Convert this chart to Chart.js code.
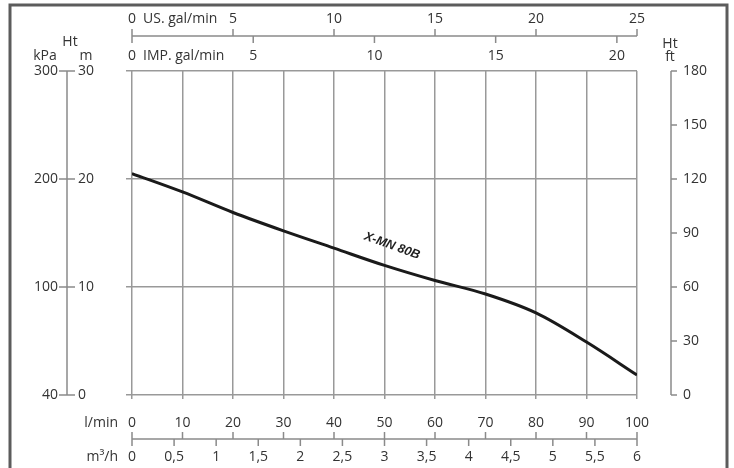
<!DOCTYPE html>
<html>
<head>
<meta charset="utf-8">
<script src="https://cdn.jsdelivr.net/npm/chart.js@4.4.1/dist/chart.umd.min.js"></script>
<style>
  html, body { margin: 0; padding: 0; background: #fff; }
  #wrap { width: 734px; height: 468px; }
</style>
</head>
<body>
<div id="wrap"><canvas id="pump" width="734" height="468"></canvas></div>
<script>
// pump curve (flow in l/min, head in m)
const flowLmin = [0, 10, 20, 30, 40, 50, 60, 70, 80, 90, 100];
const headM = [20.5, 18.8, 16.9, 15.2, 13.6, 12.0, 10.6, 9.35, 7.6, 4.9, 1.85];
const curveName = 'X-MN 80B';

// axis tick labels
const lminTicks = [0, 10, 20, 30, 40, 50, 60, 70, 80, 90, 100];
const m3hTicks = ['0', '0,5', '1', '1,5', '2', '2,5', '3', '3,5', '4', '4,5', '5', '5,5', '6'];
const usTicks = [0, 5, 10, 15, 20, 25];
const impTicks = [0, 5, 10, 15, 20];
const mTicks = [0, 10, 20, 30];
const kpaTicks = [40, 100, 200, 300];
const ftTicks = [0, 30, 60, 90, 120, 150, 180];

const FONT = '14px "Open Sans"';
const TXT = '#333';
const AXIS = '#8a8a8a';

const axesPlugin = {
    id: 'pumpAxes',
    afterDraw(chart) {
        const { ctx, scales: s } = chart;
        const line = (x1, y1, x2, y2) => { ctx.beginPath(); ctx.moveTo(x1, y1); ctx.lineTo(x2, y2); ctx.stroke(); };
        const text = (t, x, y, align) => { ctx.textAlign = align; ctx.fillText(String(t), x, y); };

        ctx.save();
        ctx.strokeStyle = AXIS;
        ctx.lineWidth = 1.5;
        ctx.fillStyle = TXT;
        ctx.font = FONT;
        ctx.textBaseline = 'middle';

        // left: kPa / m
        const lx = 67;
        line(lx, s.y.getPixelForValue(30), lx, s.y.getPixelForValue(0));
        mTicks.forEach((m, i) => {
            const py = s.y.getPixelForValue(m);
            line(lx - 8, py, lx + 8, py);
            text(kpaTicks[i], lx - 9, py, 'right');
            text(m, lx + 11, py, 'left');
        });
        text('Ht', 70, 42, 'center');
        text('kPa', 45, 56, 'center');
        text('m', 86, 56, 'center');

        // right: ft
        const rx = 671;
        line(rx, s.yFt.getPixelForValue(180), rx, s.yFt.getPixelForValue(0));
        ftTicks.forEach(v => {
            const py = s.yFt.getPixelForValue(v);
            line(rx, py, rx + 6, py);
            text(v, rx + 12, py, 'left');
        });
        text('Ht', 670, 44, 'center');
        text('ft', 670, 57, 'center');

        // top: US / IMP gal/min
        const ty = 36;
        line(s.xUS.getPixelForValue(0), ty, s.xUS.getPixelForValue(25), ty);
        usTicks.forEach(v => {
            const px = s.xUS.getPixelForValue(v);
            line(px, ty, px, ty - 7);
            text(v, px, 19, 'center');
        });
        text('US. gal/min', 143, 19, 'left');
        impTicks.forEach(v => {
            const px = s.xIMP.getPixelForValue(v);
            line(px, ty, px, ty + 7);
            text(v, px, 56, 'center');
        });
        text('IMP. gal/min', 143, 56, 'left');

        // bottom: l/min / m3/h
        const by = 439;
        line(s.x.getPixelForValue(0), by, s.x.getPixelForValue(100), by);
        lminTicks.forEach(v => {
            const px = s.x.getPixelForValue(v);
            line(px, by, px, by - 7);
            text(v, px, 423, 'center');
        });
        m3hTicks.forEach((lbl, i) => {
            const px = s.xM3.getPixelForValue(i * 0.5);
            line(px, by, px, by + 7);
            text(lbl, px, 457, 'center');
        });
        text('l/min', 118, 423, 'right');
        text('m³/h', 118, 457, 'right');

        // curve name
        ctx.save();
        ctx.translate(s.x.getPixelForValue(51.5), s.y.getPixelForValue(13.8));
        ctx.rotate(20 * Math.PI / 180);
        ctx.font = 'italic bold 12.5px "Liberation Sans"';
        ctx.fillStyle = '#1e1e1e';
        text(curveName, 0, 0, 'center');
        ctx.restore();

        // frame
        ctx.strokeStyle = '#5c5c5c';
        ctx.lineWidth = 3;
        ctx.strokeRect(10, 5, 717, 520);
        ctx.restore();
    }
};

const grid = { color: '#999', lineWidth: 1.5, drawTicks: true };

new Chart(document.getElementById('pump'), {
    type: 'line',
    data: {
        datasets: [{
            data: flowLmin.map((x, i) => ({ x, y: headM[i] })),
            borderColor: '#1a1a1a',
            borderWidth: 3,
            pointRadius: 0,
            cubicInterpolationMode: 'monotone',
            fill: false
        }]
    },
    options: {
        responsive: false,
        animation: false,
        layout: { padding: { left: 132, right: 97, top: 71, bottom: 73 } },
        plugins: { legend: { display: false }, tooltip: { enabled: false } },
        scales: {
            x: {
                type: 'linear', min: 0, max: 100,
                ticks: { stepSize: 10, display: false },
                grid: { ...grid, tickLength: 4 },
                border: { display: false },
                afterFit: sc => { sc.height = 0; }
            },
            y: {
                type: 'linear', min: 0, max: 30,
                ticks: { stepSize: 10, display: false },
                grid: { ...grid, tickLength: 6 },
                border: { display: false },
                afterFit: sc => { sc.width = 0; }
            },
            xUS: { type: 'linear', position: 'top', display: false, min: 0, max: 25 },
            xIMP: { type: 'linear', position: 'top', display: false, min: 0, max: 20.83 },
            xM3: { type: 'linear', position: 'bottom', display: false, min: 0, max: 6 },
            yFt: { type: 'linear', position: 'right', display: false, min: 0, max: 180 }
        }
    },
    plugins: [axesPlugin]
});
</script>
</body>
</html>
